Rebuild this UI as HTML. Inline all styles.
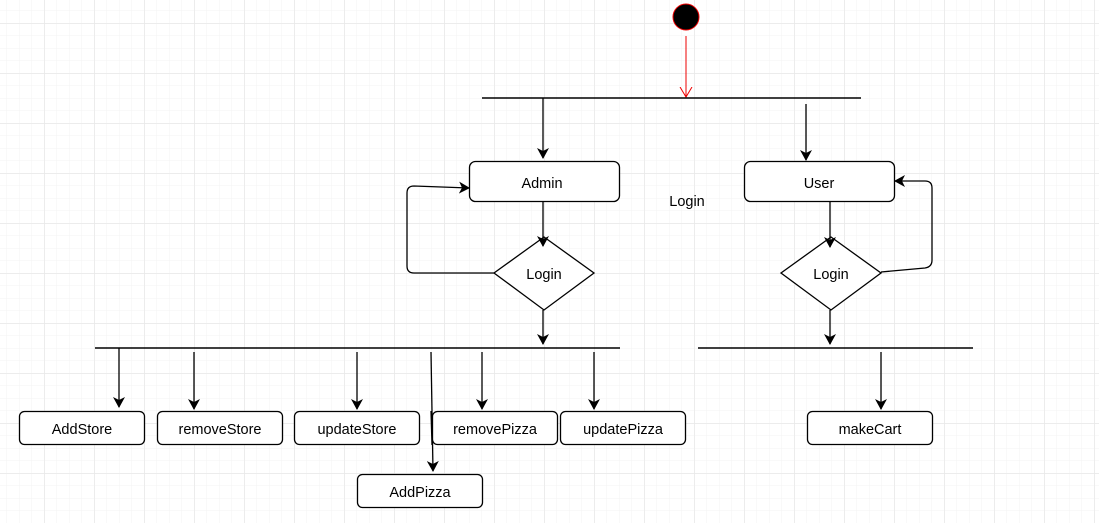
<!DOCTYPE html>
<html><head><style>
html,body{margin:0;padding:0;background:#fff;}
svg{display:block;}
text{font-family:"Liberation Sans",Arial,sans-serif;font-size:14.5px;fill:#000;}
</style></head><body>
<svg width="1099" height="523" viewBox="0 0 1099 523" xmlns="http://www.w3.org/2000/svg">
<defs>
<pattern id="minor" width="12.5" height="12.5" patternUnits="userSpaceOnUse" x="6.5" y="10.5">
<path d="M0 0H12.5M0 0V12.5" stroke="#f3f3f3" stroke-width="1" fill="none"/>
</pattern>
<pattern id="major" width="50" height="50" patternUnits="userSpaceOnUse" x="44.5" y="23.5">
<path d="M0 0H50M0 0V50" stroke="#e6e6e6" stroke-width="1" fill="none"/>
</pattern>
<marker id="a" markerWidth="12" markerHeight="12" refX="10" refY="6" orient="auto" markerUnits="userSpaceOnUse">
<path d="M0 0L11 6L0 12L3 6Z" fill="#000"/>
</marker>
<marker id="r" markerWidth="12" markerHeight="14" refX="10" refY="7" orient="auto" markerUnits="userSpaceOnUse">
<path d="M0 1L10 7L0 13" fill="none" stroke="#e00" stroke-width="1"/>
</marker>
</defs>
<rect width="1099" height="523" fill="url(#minor)"/>
<rect width="1099" height="523" fill="url(#major)"/>

<circle cx="686" cy="17" r="13" fill="#000" stroke="#e00" stroke-width="1"/>
<line x1="686" y1="36" x2="686" y2="97" stroke="#e00" stroke-width="1" marker-end="url(#r)"/>

<g stroke="#000" stroke-width="1.5" fill="none">
<line x1="482" y1="98" x2="861" y2="98"/>
<line x1="95" y1="348" x2="620" y2="348"/>
<line x1="698" y1="348" x2="973" y2="348"/>
</g>
<g stroke="#000" stroke-width="1.3" fill="none" marker-end="url(#a)">
<line x1="543" y1="98" x2="543" y2="158"/>
<line x1="806" y1="104" x2="806" y2="160"/>
<path d="M494 273H414Q407 273 407 266V193Q407 186 414 186L469 188"/>
<path d="M881 272L925 268Q932 267 932 260V188Q932 181 925 181H895"/>
<line x1="543" y1="310" x2="543" y2="344"/>
<line x1="830" y1="310" x2="830" y2="344"/>
<line x1="119" y1="348" x2="119" y2="407"/>
<line x1="194" y1="352" x2="194" y2="409"/>
<line x1="357" y1="352" x2="357" y2="409"/>
<line x1="482" y1="352" x2="482" y2="409"/>
<line x1="594" y1="352" x2="594" y2="409"/>
<line x1="431" y1="352" x2="433" y2="471"/>
<line x1="881" y1="352" x2="881" y2="409"/>
</g>

<g stroke="#000" stroke-width="1.3" fill="#fff">
<rect x="469.5" y="161.5" width="150" height="40" rx="6"/>
<rect x="744.5" y="161.5" width="150" height="40" rx="6"/>
<path d="M544 237L594 273L544 310L494 273Z"/>
<path d="M831 237L881 273L831 310L781 273Z"/>
<rect x="19.5" y="411.5" width="125" height="33" rx="5"/>
<rect x="157.5" y="411.5" width="125" height="33" rx="5"/>
<rect x="294.5" y="411.5" width="125" height="33" rx="5"/>
<rect x="432.5" y="411.5" width="125" height="33" rx="5"/>
<rect x="560.5" y="411.5" width="125" height="33" rx="5"/>
<rect x="807.5" y="411.5" width="125" height="33" rx="5"/>
<rect x="357.5" y="474.5" width="125" height="33" rx="5"/>
</g>
<line x1="543" y1="201" x2="543" y2="246" stroke="#000" stroke-width="1.3" marker-end="url(#a)"/>
<line x1="830" y1="201" x2="830" y2="247" stroke="#000" stroke-width="1.3" marker-end="url(#a)"/>
<line x1="431" y1="411" x2="432" y2="445" stroke="#000" stroke-width="1.3"/>

<g text-anchor="middle">
<text x="542" y="188">Admin</text>
<text x="819" y="188">User</text>
<text x="687" y="206">Login</text>
<text x="544" y="279">Login</text>
<text x="831" y="279">Login</text>
<text x="82" y="434">AddStore</text>
<text x="220" y="434">removeStore</text>
<text x="357" y="434">updateStore</text>
<text x="495" y="434">removePizza</text>
<text x="623" y="434">updatePizza</text>
<text x="870" y="434">makeCart</text>
<text x="420" y="497">AddPizza</text>
</g>
</svg>
</body></html>
